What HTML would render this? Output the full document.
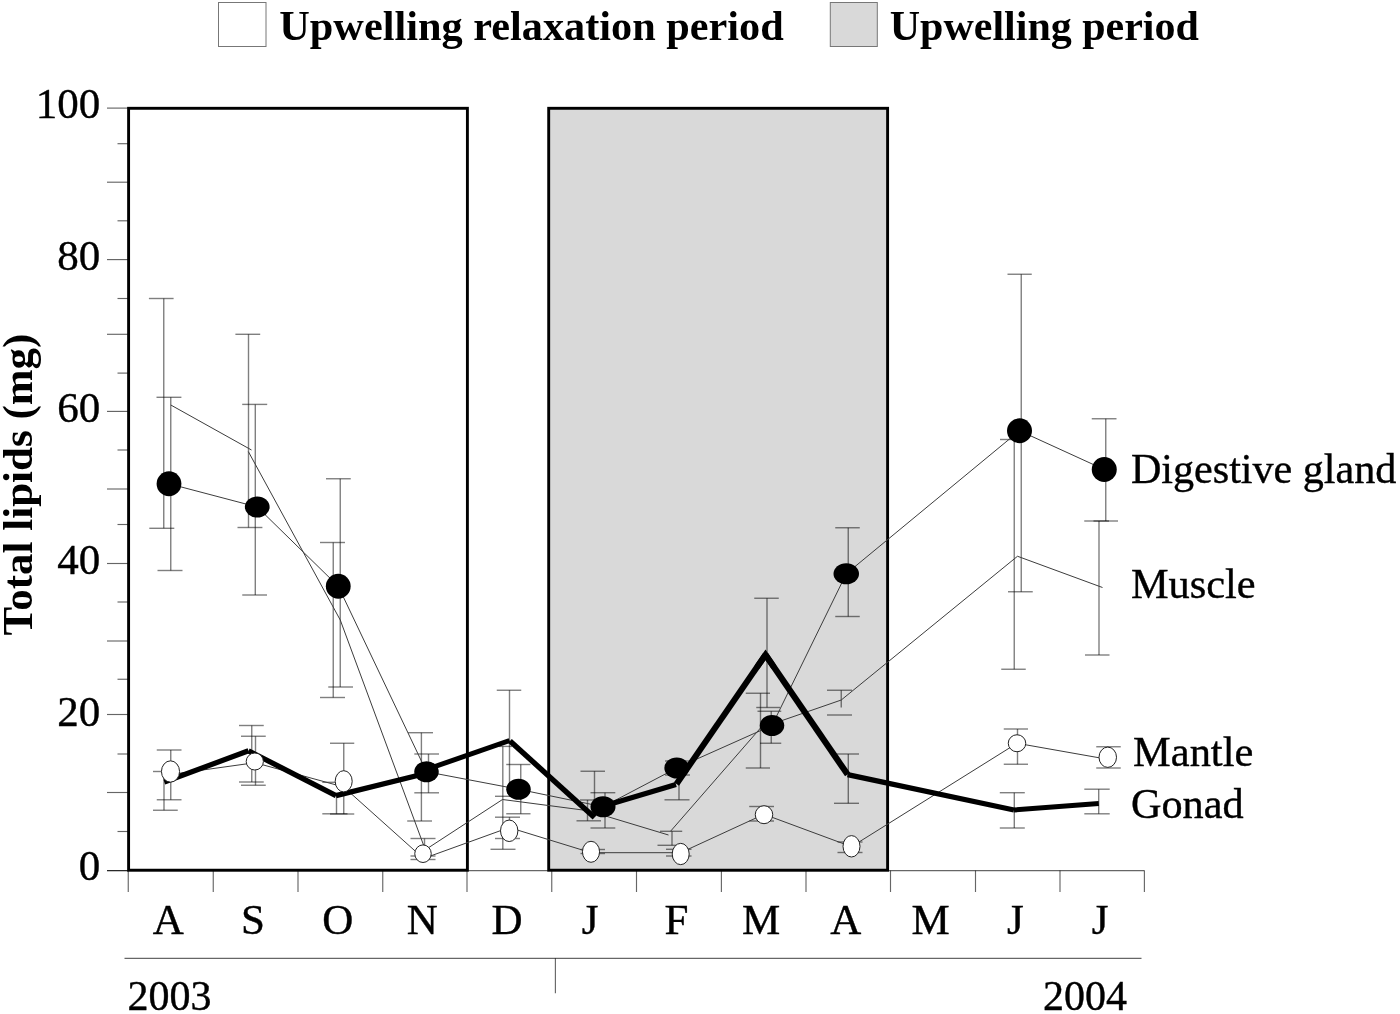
<!DOCTYPE html>
<html><head><meta charset="utf-8"><title>Total lipids</title>
<style>
html,body{margin:0;padding:0;background:#fff;}
body{width:1400px;height:1014px;overflow:hidden;}
svg{display:block;filter:grayscale(1);}
text{font-family:"Liberation Serif",serif;fill:#000;stroke:#000;stroke-width:0.4px;}
.b{font-weight:bold;stroke:none;}
</style></head><body>
<svg width="1400" height="1014" viewBox="0 0 1400 1014">
<rect x="0" y="0" width="1400" height="1014" fill="#fff"/>
<rect x="218.5" y="2.5" width="47.5" height="44" fill="#fff" stroke="#777" stroke-width="1"/>
<rect x="830.3" y="2.5" width="47" height="44" fill="#d9d9d9" stroke="#777" stroke-width="1"/>
<text class="b" x="279.3" y="40.2" font-size="43" textLength="504.5" lengthAdjust="spacingAndGlyphs">Upwelling relaxation period</text>
<text class="b" x="889.8" y="40.2" font-size="43" textLength="309" lengthAdjust="spacingAndGlyphs">Upwelling period</text>
<rect x="128.6" y="108.3" width="338.79999999999995" height="761.9000000000001" fill="#fff" stroke="#000" stroke-width="2.9"/>
<rect x="548.7" y="108.3" width="338.9" height="761.9000000000001" fill="#d9d9d9" stroke="#000" stroke-width="2.9"/>
<g stroke="#000" stroke-opacity="0.6" stroke-width="1.15" fill="none">
<line x1="107" y1="108.1" x2="128.5" y2="108.1" />
<line x1="117.5" y1="143.7" x2="128.5" y2="143.7" />
<line x1="107" y1="182.2" x2="128.5" y2="182.2" />
<line x1="117.5" y1="220.8" x2="128.5" y2="220.8" />
<line x1="107" y1="259.6" x2="128.5" y2="259.6" />
<line x1="117.5" y1="298.5" x2="128.5" y2="298.5" />
<line x1="107" y1="334.3" x2="128.5" y2="334.3" />
<line x1="117.5" y1="373.1" x2="128.5" y2="373.1" />
<line x1="107" y1="411.4" x2="128.5" y2="411.4" />
<line x1="117.5" y1="450" x2="128.5" y2="450" />
<line x1="107" y1="489" x2="128.5" y2="489" />
<line x1="117.5" y1="524.5" x2="128.5" y2="524.5" />
<line x1="107" y1="563.5" x2="128.5" y2="563.5" />
<line x1="117.5" y1="602" x2="128.5" y2="602" />
<line x1="107" y1="641" x2="128.5" y2="641" />
<line x1="117.5" y1="679.25" x2="128.5" y2="679.25" />
<line x1="107" y1="714.5" x2="128.5" y2="714.5" />
<line x1="117.5" y1="754" x2="128.5" y2="754" />
<line x1="107" y1="792.5" x2="128.5" y2="792.5" />
<line x1="117.5" y1="831.5" x2="128.5" y2="831.5" />
<line x1="107" y1="870.6" x2="128.5" y2="870.6" />
<line x1="107" y1="870.6" x2="1144.4" y2="870.6" />
<line x1="128.25" y1="870.6" x2="128.25" y2="892" />
<line x1="213.25" y1="870.6" x2="213.25" y2="892" />
<line x1="298" y1="870.6" x2="298" y2="892" />
<line x1="382.75" y1="870.6" x2="382.75" y2="892" />
<line x1="467" y1="870.6" x2="467" y2="892" />
<line x1="551.75" y1="870.6" x2="551.75" y2="892" />
<line x1="636.5" y1="870.6" x2="636.5" y2="892" />
<line x1="721.4" y1="870.6" x2="721.4" y2="892" />
<line x1="806" y1="870.6" x2="806" y2="892" />
<line x1="890.5" y1="870.6" x2="890.5" y2="892" />
<line x1="975.5" y1="870.6" x2="975.5" y2="892" />
<line x1="1060" y1="870.6" x2="1060" y2="892" />
<line x1="1144.4" y1="870.6" x2="1144.4" y2="892" />
<line x1="124.5" y1="958.3" x2="1141.5" y2="958.3" />
<line x1="555.4" y1="958.3" x2="555.4" y2="993.3" />
</g>
<text x="100.3" y="118.3" font-size="43" text-anchor="end">100</text>
<text x="100.3" y="270.2" font-size="43" text-anchor="end">80</text>
<text x="100.3" y="421.9" font-size="43" text-anchor="end">60</text>
<text x="100.3" y="573.7" font-size="43" text-anchor="end">40</text>
<text x="100.3" y="725.5" font-size="43" text-anchor="end">20</text>
<text x="100.3" y="880.1" font-size="43" text-anchor="end">0</text>
<text x="168.3" y="933.6" font-size="43" text-anchor="middle">A</text>
<text x="253.0" y="933.6" font-size="43" text-anchor="middle">S</text>
<text x="337.7" y="933.6" font-size="43" text-anchor="middle">O</text>
<text x="422.4" y="933.6" font-size="43" text-anchor="middle">N</text>
<text x="507.1" y="933.6" font-size="43" text-anchor="middle">D</text>
<text x="590.0" y="933.6" font-size="43" text-anchor="middle">J</text>
<text x="676.5" y="933.6" font-size="43" text-anchor="middle">F</text>
<text x="761.2" y="933.6" font-size="43" text-anchor="middle">M</text>
<text x="845.9" y="933.6" font-size="43" text-anchor="middle">A</text>
<text x="930.6" y="933.6" font-size="43" text-anchor="middle">M</text>
<text x="1015.3" y="933.6" font-size="43" text-anchor="middle">J</text>
<text x="1100.0" y="933.6" font-size="43" text-anchor="middle">J</text>
<text x="127.5" y="1010.3" font-size="42">2003</text>
<text x="1043" y="1010.3" font-size="42">2004</text>
<text class="b" transform="translate(31.6,635.5) rotate(-90)" font-size="43">Total lipids (mg)</text>
<g stroke="#000" stroke-opacity="0.5" stroke-width="1.4" fill="none">
<line x1="163.75" y1="298.5" x2="163.75" y2="528.3" />
<line x1="148.9" y1="298.5" x2="173.6" y2="298.5" />
<line x1="149.3" y1="528.3" x2="174.3" y2="528.3" />
<line x1="170.75" y1="397.3" x2="170.75" y2="570.5" />
<line x1="156.5" y1="397.3" x2="181.4" y2="397.3" />
<line x1="157.5" y1="570.5" x2="182.5" y2="570.5" />
<line x1="170.75" y1="750" x2="170.75" y2="799.75" />
<line x1="156.75" y1="750" x2="181.5" y2="750" />
<line x1="156.75" y1="799.75" x2="181.5" y2="799.75" />
<line x1="164" y1="771.5" x2="164" y2="810.25" />
<line x1="153" y1="771.5" x2="177.75" y2="771.5" />
<line x1="153" y1="810.25" x2="177.75" y2="810.25" />
<line x1="248.5" y1="334.3" x2="248.5" y2="527.5" />
<line x1="235.4" y1="334.3" x2="260.2" y2="334.3" />
<line x1="237.5" y1="527.5" x2="262.4" y2="527.5" />
<line x1="255.3" y1="404.4" x2="255.3" y2="595" />
<line x1="242.2" y1="404.4" x2="267.2" y2="404.4" />
<line x1="242.25" y1="595" x2="267" y2="595" />
<line x1="251.75" y1="725.5" x2="251.75" y2="782" />
<line x1="239" y1="725.5" x2="263.75" y2="725.5" />
<line x1="239" y1="782" x2="263.75" y2="782" />
<line x1="255.5" y1="736.25" x2="255.5" y2="785.25" />
<line x1="241" y1="736.25" x2="265.75" y2="736.25" />
<line x1="241" y1="785.25" x2="265.75" y2="785.25" />
<line x1="340.25" y1="478.75" x2="340.25" y2="687" />
<line x1="326" y1="478.75" x2="350.75" y2="478.75" />
<line x1="328.25" y1="687" x2="353" y2="687" />
<line x1="333.25" y1="542.5" x2="333.25" y2="697.5" />
<line x1="320" y1="542.5" x2="345" y2="542.5" />
<line x1="320" y1="697.5" x2="345" y2="697.5" />
<line x1="343.75" y1="743.25" x2="343.75" y2="814" />
<line x1="330" y1="743.25" x2="354.25" y2="743.25" />
<line x1="330" y1="814" x2="354.25" y2="814" />
<line x1="336.5" y1="793" x2="336.5" y2="813.8" />
<line x1="322.3" y1="813.8" x2="347.5" y2="813.8" />
<line x1="336.5" y1="782.3" x2="336.5" y2="782.3" />
<line x1="322.3" y1="782.3" x2="347.5" y2="782.3" />
<line x1="421.4" y1="732.7" x2="421.4" y2="821" />
<line x1="408" y1="732.7" x2="433" y2="732.7" />
<line x1="407.2" y1="821" x2="432" y2="821" />
<line x1="428.5" y1="754" x2="428.5" y2="792.8" />
<line x1="414.3" y1="754" x2="439" y2="754" />
<line x1="414.3" y1="792.8" x2="439" y2="792.8" />
<line x1="424.5" y1="838.5" x2="424.5" y2="846" />
<line x1="410.5" y1="838.5" x2="435.5" y2="838.5" />
<line x1="423" y1="856" x2="423" y2="856" />
<line x1="410.5" y1="856" x2="435.5" y2="856" />
<line x1="423" y1="859.5" x2="423" y2="859.5" />
<line x1="410.5" y1="859.5" x2="435.5" y2="859.5" />
<line x1="509.5" y1="690.25" x2="509.5" y2="796.3" />
<line x1="496.75" y1="690.25" x2="521.25" y2="690.25" />
<line x1="495" y1="796.3" x2="520" y2="796.3" />
<line x1="502.8" y1="746.4" x2="502.8" y2="849.3" />
<line x1="499" y1="746.4" x2="512" y2="746.4" />
<line x1="490.5" y1="849.3" x2="515.5" y2="849.3" />
<line x1="520.75" y1="764.5" x2="520.75" y2="813.75" />
<line x1="506.25" y1="764.5" x2="530.5" y2="764.5" />
<line x1="506.25" y1="813.75" x2="530.5" y2="813.75" />
<line x1="509.5" y1="817.2" x2="509.5" y2="838.5" />
<line x1="495" y1="817.2" x2="520" y2="817.2" />
<line x1="495" y1="838.5" x2="520" y2="838.5" />
<line x1="594.5" y1="771.25" x2="594.5" y2="817" />
<line x1="580.5" y1="771.25" x2="605" y2="771.25" />
<line x1="587.5" y1="800" x2="587.5" y2="820.8" />
<line x1="580" y1="800" x2="594" y2="800" />
<line x1="576.5" y1="820.8" x2="601" y2="820.8" />
<line x1="605" y1="792.7" x2="605" y2="828" />
<line x1="590.5" y1="792.7" x2="615.3" y2="792.7" />
<line x1="590.5" y1="828" x2="615.3" y2="828" />
<line x1="591" y1="849.5" x2="591" y2="853.5" />
<line x1="580.5" y1="849.5" x2="605" y2="849.5" />
<line x1="580.5" y1="853.5" x2="605" y2="853.5" />
<line x1="679" y1="761" x2="679" y2="799.8" />
<line x1="665" y1="761" x2="690" y2="761" />
<line x1="664.5" y1="799.8" x2="689.5" y2="799.8" />
<line x1="676.75" y1="761" x2="676.75" y2="775" />
<line x1="665" y1="775" x2="690" y2="775" />
<line x1="672" y1="831.3" x2="672" y2="845.3" />
<line x1="660" y1="831.3" x2="682.2" y2="831.3" />
<line x1="657.5" y1="845.3" x2="682" y2="845.3" />
<line x1="680.7" y1="849.3" x2="680.7" y2="856" />
<line x1="666" y1="849.3" x2="691.5" y2="849.3" />
<line x1="666" y1="856" x2="691.5" y2="856" />
<line x1="767" y1="598.25" x2="767" y2="707.5" />
<line x1="754.25" y1="598.25" x2="778.75" y2="598.25" />
<line x1="756.25" y1="707.5" x2="780" y2="707.5" />
<line x1="760.5" y1="693.25" x2="760.5" y2="768" />
<line x1="745.75" y1="693.25" x2="770" y2="693.25" />
<line x1="745.75" y1="768" x2="770" y2="768" />
<line x1="771.25" y1="711.25" x2="771.25" y2="743.25" />
<line x1="757.5" y1="711.25" x2="781.25" y2="711.25" />
<line x1="760" y1="743.25" x2="781.25" y2="743.25" />
<line x1="764" y1="806.5" x2="764" y2="821" />
<line x1="749.2" y1="806.5" x2="774" y2="806.5" />
<line x1="749.2" y1="821" x2="774" y2="821" />
<line x1="848.25" y1="527.75" x2="848.25" y2="616.5" />
<line x1="835.25" y1="527.75" x2="859.75" y2="527.75" />
<line x1="835.25" y1="616.5" x2="859.75" y2="616.5" />
<line x1="841.25" y1="690.25" x2="841.25" y2="707.5" />
<line x1="827" y1="690.25" x2="852" y2="690.25" />
<line x1="841.25" y1="715" x2="841.25" y2="715" />
<line x1="827" y1="715" x2="852" y2="715" />
<line x1="848.3" y1="754" x2="848.3" y2="803.3" />
<line x1="836.5" y1="754" x2="859" y2="754" />
<line x1="834" y1="803.3" x2="859" y2="803.3" />
<line x1="851.5" y1="842" x2="851.5" y2="852.5" />
<line x1="837.5" y1="842" x2="862.5" y2="842" />
<line x1="837.5" y1="852.5" x2="862.5" y2="852.5" />
<line x1="1021.25" y1="274.25" x2="1021.25" y2="591.75" />
<line x1="1007.5" y1="274.25" x2="1031.75" y2="274.25" />
<line x1="1008" y1="591.75" x2="1032.75" y2="591.75" />
<line x1="1014.25" y1="439.5" x2="1014.25" y2="669.25" />
<line x1="1000" y1="439.5" x2="1024.5" y2="439.5" />
<line x1="1001.25" y1="669.25" x2="1025.75" y2="669.25" />
<line x1="1017.5" y1="729" x2="1017.5" y2="764.25" />
<line x1="1003.75" y1="729" x2="1028" y2="729" />
<line x1="1003.75" y1="764.25" x2="1028" y2="764.25" />
<line x1="1014.3" y1="792.7" x2="1014.3" y2="828" />
<line x1="999.8" y1="792.7" x2="1024.8" y2="792.7" />
<line x1="999.8" y1="828" x2="1024.8" y2="828" />
<line x1="1105.75" y1="418.75" x2="1105.75" y2="521" />
<line x1="1091.75" y1="418.75" x2="1116.5" y2="418.75" />
<line x1="1093.5" y1="521" x2="1118" y2="521" />
<line x1="1099" y1="521" x2="1099" y2="655" />
<line x1="1084.25" y1="521" x2="1109" y2="521" />
<line x1="1085" y1="655" x2="1109.5" y2="655" />
<line x1="1107.75" y1="746.75" x2="1107.75" y2="768" />
<line x1="1096.25" y1="746.75" x2="1120.75" y2="746.75" />
<line x1="1096.25" y1="768" x2="1120.75" y2="768" />
<line x1="1098.7" y1="789.2" x2="1098.7" y2="813.8" />
<line x1="1084.3" y1="789.2" x2="1109.7" y2="789.2" />
<line x1="1084.3" y1="813.8" x2="1109.7" y2="813.8" />
</g>
<g stroke="#3c3c3c" stroke-width="1.0" fill="none">
<polyline points="169,483.75 257.25,507 338.25,586.25 426.5,771.75 518.5,789.25 603,806.75 676.75,768 772,725.5 846.25,573.75 1019.5,430.75 1104.25,469.5"/>
<polyline points="170.8,405 251.5,450"/>
<polyline points="248.3,451.5 340.25,620 425.3,849.8 502.5,799.5 588,810.7 668.5,835"/>
<polyline points="670.5,831.3 760.5,728 841.25,700 1017.5,556.25 1102.5,587.5"/>
<polyline points="170.5,774.5 255,762.7 343.7,787 423.5,858.5 509.2,827.5 591,852.7 680.7,852.7 764,814.3 851.5,846.7 1017,743.25 1107.75,759.3"/>
</g>
<line x1="164.3" y1="782.0" x2="248.5" y2="750.8" stroke="#000" stroke-width="5.2" stroke-linecap="butt"/>
<line x1="248.5" y1="750.8" x2="336.0" y2="795.6" stroke="#000" stroke-width="5.3" stroke-linecap="butt"/>
<line x1="336.0" y1="795.6" x2="426.5" y2="773.3" stroke="#000" stroke-width="5.3" stroke-linecap="butt"/>
<line x1="426.5" y1="769.5" x2="509.5" y2="740.5" stroke="#000" stroke-width="5.0" stroke-linecap="butt"/>
<line x1="510.0" y1="741.0" x2="594.5" y2="817.5" stroke="#000" stroke-width="5.4" stroke-linecap="butt"/>
<line x1="594.5" y1="808.7" x2="676.0" y2="784.5" stroke="#000" stroke-width="5.2" stroke-linecap="butt"/>
<line x1="676.5" y1="784.0" x2="765.5" y2="654.8" stroke="#000" stroke-width="6.0" stroke-linecap="butt"/>
<line x1="765.5" y1="654.8" x2="847.6" y2="774.6" stroke="#000" stroke-width="6.2" stroke-linecap="butt"/>
<line x1="847.6" y1="774.6" x2="1014.0" y2="810.0" stroke="#000" stroke-width="5.3" stroke-linecap="butt"/>
<line x1="1014.0" y1="810.0" x2="1098.8" y2="803.5" stroke="#000" stroke-width="5.0" stroke-linecap="butt"/>
<polyline points="757,667.1 765.5,654.8 773.9,667.1" fill="none" stroke="#000" stroke-width="6" stroke-linejoin="miter" stroke-miterlimit="10"/>
<ellipse cx="169" cy="483.75" rx="12.4" ry="12.4" fill="#000"/>
<ellipse cx="257.25" cy="507" rx="12.4" ry="10.6" fill="#000"/>
<ellipse cx="338.25" cy="586.25" rx="12.4" ry="12.5" fill="#000"/>
<ellipse cx="426.5" cy="771.75" rx="12.25" ry="10.6" fill="#000"/>
<ellipse cx="518.5" cy="789.25" rx="12.25" ry="10.6" fill="#000"/>
<ellipse cx="603" cy="806.75" rx="12.5" ry="10.6" fill="#000"/>
<ellipse cx="676.75" cy="768" rx="12.4" ry="10.6" fill="#000"/>
<ellipse cx="772" cy="725.5" rx="12.25" ry="10.6" fill="#000"/>
<ellipse cx="846.25" cy="573.75" rx="12.75" ry="10.6" fill="#000"/>
<ellipse cx="1019.5" cy="430.75" rx="12.5" ry="12.4" fill="#000"/>
<ellipse cx="1104.25" cy="469.5" rx="12.5" ry="12.5" fill="#000"/>
<ellipse cx="170.5" cy="771.5" rx="9.05" ry="10.65" fill="#fff" stroke="#222" stroke-width="1"/>
<ellipse cx="254.8" cy="761.5" rx="8.6" ry="8.5" fill="#fff" stroke="#222" stroke-width="1"/>
<ellipse cx="343.7" cy="781.3" rx="8.5" ry="10.6" fill="#fff" stroke="#222" stroke-width="1"/>
<ellipse cx="423" cy="853.7" rx="8.25" ry="8.8" fill="#fff" stroke="#222" stroke-width="1"/>
<ellipse cx="509.2" cy="830.8" rx="8.7" ry="10.75" fill="#fff" stroke="#222" stroke-width="1"/>
<ellipse cx="591" cy="851.8" rx="8.55" ry="10.5" fill="#fff" stroke="#222" stroke-width="1"/>
<ellipse cx="680.7" cy="854" rx="8.5" ry="10.65" fill="#fff" stroke="#222" stroke-width="1"/>
<ellipse cx="764" cy="814.7" rx="8.75" ry="9.0" fill="#fff" stroke="#222" stroke-width="1"/>
<ellipse cx="851.5" cy="846.3" rx="8.5" ry="10.7" fill="#fff" stroke="#222" stroke-width="1"/>
<ellipse cx="1017" cy="743.25" rx="8.75" ry="8.5" fill="#fff" stroke="#222" stroke-width="1"/>
<ellipse cx="1107.75" cy="757.25" rx="8.75" ry="10.15" fill="#fff" stroke="#222" stroke-width="1"/>
<text x="1130.9" y="482.6" font-size="42.8" textLength="265.5" lengthAdjust="spacingAndGlyphs">Digestive gland</text>
<text x="1130.9" y="598" font-size="42.8" textLength="124.6" lengthAdjust="spacingAndGlyphs">Muscle</text>
<text x="1133.1" y="766" font-size="42.8" textLength="120.2" lengthAdjust="spacingAndGlyphs">Mantle</text>
<text x="1131" y="818" font-size="42.8" textLength="112.6" lengthAdjust="spacingAndGlyphs">Gonad</text>
</svg></body></html>
